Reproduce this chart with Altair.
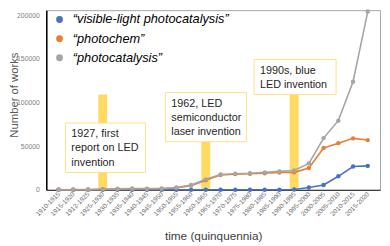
import json
import altair as alt
import pandas as pd

cats = ["1910-1915", "1915-1920", "1912-1925", "1925-1930", "1930-1935", "1935-1940",
        "1940-1945", "1945-1950", "1950-1955", "1955-1960", "1960-1965", "1965-1970",
        "1970-1975", "1975-1980", "1980-1985", "1985-1990", "1990-1995", "1995-2000",
        "2000-2005", "2005-2010", "2010-2015", "2015-2020"]

visible_light = [0, 0, 0, 0, 0, 0, 0, 0, 0, 0, 0, 0, 0, 0, 0, 100, 300, 2700, 5500, 15500, 26700, 27400]
photochem = [0, 0, 0, 500, 800, 1000, 900, 1100, 2200, 4800, 11000, 17000, 18000, 18300, 19000,
             19800, 20000, 25000, 48000, 53500, 59000, 57000]
photocatalysis = [100, 200, 300, 800, 1200, 1500, 1400, 1500, 2700, 5500, 12000, 17500, 18500,
                  19000, 20000, 21100, 22200, 30300, 59300, 79300, 124000, 204400]

series_names = ["\u201cvisible-light photocatalysis\u201d", " \u201cphotochem\u201d", "\u201cphotocatalysis\u201d"]
series_colors = ["#4472C4", "#ED7D31", "#A5A5A5"]

# annotations (in category-index / value units)
event_cats = ["1925-1930", "1960-1965", "1990-1995"]
event_bar_tops = [109200, 55200, 109200]
event_texts = ["1927, first\nreport on LED\ninvention",
               "1962, LED\nsemiconductor\nlaser invention",
               "1990s, blue\nLED invention"]
box_x1 = [0.47, 7.26, 13.28]
box_x2 = [5.91, 12.76, 18.85]
box_top = [76600, 111500, 149400]
box_bottom = [19900, 55200, 109200]

rows = []
for name, vals in zip(series_names, [visible_light, photochem, photocatalysis]):
    for i, (c, v) in enumerate(zip(cats, vals)):
        rows.append({"idx": i, "cat": c, "series": name, "value": v})
df = pd.DataFrame(rows)

ev = pd.DataFrame({
    "idx": [cats.index(c) for c in event_cats],
    "top": event_bar_tops,
    "text": event_texts,
    "x1": box_x1, "x2": box_x2, "y1": box_top, "y2": box_bottom,
})

label_expr = json.dumps(cats) + "[datum.value]"
xscale = alt.Scale(domain=[-0.5, 21.5], nice=False, zero=False)
yscale = alt.Scale(domain=[0, 206000], nice=False)

x_axis = alt.Axis(values=list(range(len(cats))), labelExpr=label_expr, labelAngle=315,
                  labelAlign="right", labelBaseline="middle", labelFontSize=6.6,
                  labelColor="#6b6b6b", labelPadding=3, labelOverlap=False, labelFlush=False,
                  labelBound=False, ticks=False, grid=False,
                  domainColor="#404040", domainWidth=1.2,
                  title="time (quinquennia)", titleFontSize=12, titleFontWeight="normal",
                  titleColor="#404040", titleX=170, titleY=51, titleAnchor="middle",
                  titleAlign="center", titleBaseline="alphabetic")
y_axis = alt.Axis(values=[0, 50000, 100000, 150000, 200000], format="d", labelFontSize=7,
                  labelColor="#808080", labelPadding=7, ticks=False, grid=False,
                  domainColor="black", domainWidth=1.5,
                  title="Number of works", titleFontSize=11.5, titleFontWeight="normal",
                  titleColor="#595959", titleX=-32, titleY=86, titleAngle=270,
                  titleAlign="center", titleBaseline="middle")

bars = alt.Chart(ev).mark_bar(size=9, color="#FFD54F", opacity=0.9).encode(
    x=alt.X("idx:Q", scale=xscale, axis=x_axis),
    y=alt.Y("top:Q", scale=yscale, axis=y_axis),
    y2=alt.datum(0),
)

boxes = alt.Chart(ev).mark_rect(fill="white", stroke="#FFE082", strokeWidth=1).encode(
    x=alt.X("x1:Q", scale=xscale, axis=x_axis), x2="x2:Q",
    y=alt.Y("y1:Q", scale=yscale, axis=y_axis), y2="y2:Q",
)

texts = alt.Chart(ev).mark_text(align="left", baseline="middle", dx=6, dy=11.5,
                                font="Liberation Sans", fontSize=11, lineHeight=14.5,
                                color="#262626", lineBreak="\n").encode(
    x=alt.X("x1:Q", scale=xscale, axis=x_axis),
    y=alt.Y("y1:Q", scale=yscale, axis=y_axis),
    text="text:N",
)

color_scale = alt.Scale(domain=series_names, range=series_colors)
legend = alt.Legend(title=None, orient="none", legendX=7, legendY=3,
                    symbolType="circle", symbolSize=48, symbolStrokeWidth=0,
                    labelFont="Liberation Sans", labelFontSize=13,
                    labelFontStyle="italic", labelColor="black",
                    labelOffset=7, rowPadding=5.5, padding=0, labelLimit=300)

lines = alt.Chart(df).mark_line(strokeWidth=1.6).encode(
    x=alt.X("idx:Q", scale=xscale, axis=x_axis),
    y=alt.Y("value:Q", scale=yscale, axis=y_axis),
    color=alt.Color("series:N", scale=color_scale, legend=legend),
    order=alt.Order("idx:Q"),
)

points = alt.Chart(df).mark_point(filled=True, size=20, opacity=1).encode(
    x=alt.X("idx:Q", scale=xscale, axis=x_axis),
    y=alt.Y("value:Q", scale=yscale, axis=y_axis),
    color=alt.Color("series:N", scale=color_scale, legend=legend),
)

chart = alt.layer(bars, boxes, texts, lines, points).properties(
    width=340, height=183,
    autosize=alt.AutoSizeParams(type="none"),
    padding={"left": 39, "top": 0, "right": 2, "bottom": 52},
).configure_view(stroke="#a6a6a6", strokeWidth=1).configure_axis(
    labelFont="Liberation Sans", titleFont="Liberation Sans"
)

chart.save("out.html", embed_options={"renderer": "svg", "actions": False})
